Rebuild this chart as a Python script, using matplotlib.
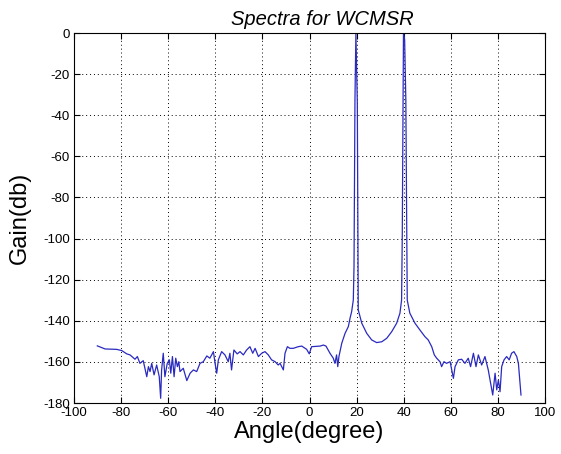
import numpy as np
import matplotlib
matplotlib.use('Agg')
import matplotlib.pyplot as plt

# angle (degree) and gain (db)
angle = [-90.1, -86.8, -81.9, -79.7, -77.6, -76.2, -74.1, -73.1, -72.0, -70.6,
         -69.1, -68.4, -67.7, -67.0, -66.0, -64.9, -63.8, -63.2, -62.8, -62.1,
         -61.4, -60.4, -59.5, -58.9, -58.2, -57.5, -56.8, -56.1, -55.5, -55.0,
         -53.6, -52.1, -50.7, -49.3, -47.9, -46.5, -45.1, -43.6, -42.3, -40.8,
         -40.1, -39.4, -38.7, -37.3, -35.9, -34.5, -33.8, -33.1, -32.1, -30.7,
         -29.5, -28.1, -26.7, -25.3, -24.1, -23.1, -21.7, -20.3, -18.9, -17.5,
         -16.1, -14.6, -13.3, -12.5, -11.1, -10.4, -9.4, -8.3, -6.9, -4.8,
         -3.3, -1.2, -0.1, 0.9, 4.5, 5.9, 7.0, 8.7, 10.1, 10.8,
         11.5, 12.0, 12.5, 13.7, 15.1, 16.5, 17.2, 17.9, 18.6, 18.9,
         19.3, 19.7, 20.3, 20.7, 22.2, 24.3, 26.4, 28.5, 30.7, 32.8,
         34.9, 37.0, 38.4, 39.1, 39.4, 39.8, 39.9, 40.4, 40.9, 41.5,
         42.6, 44.8, 46.9, 49.0, 50.4, 51.9, 53.0, 54.0, 55.4, 56.1,
         57.1, 58.2, 59.7, 60.8, 61.1, 61.8, 63.2, 64.6, 66.0, 67.4,
         68.4, 69.6, 70.7, 71.7, 73.1, 74.5, 75.9, 77.8, 78.8, 79.5,
         80.2, 80.9, 81.6, 82.6, 83.7, 84.8, 85.8, 86.8, 88.0, 88.7,
         89.4, 89.8]
gain = [-152.2, -153.7, -153.9, -154.5, -156.1, -156.6, -158.7, -157.4, -160.7, -159.4,
        -167.2, -162.3, -164.7, -160.7, -166.3, -161.5, -167.2, -177.7, -163.9, -155.8,
        -167.2, -160.7, -159.0, -165.5, -157.4, -167.2, -158.2, -162.3, -159.9, -164.7,
        -163.1, -169.1, -165.5, -163.9, -164.7, -160.7, -159.9, -157.1, -158.2, -155.0,
        -160.7, -165.5, -159.0, -155.0, -156.6, -159.9, -155.8, -163.9, -154.2, -156.1,
        -155.0, -156.6, -154.2, -152.6, -155.8, -153.4, -157.4, -155.8, -155.0, -156.6,
        -159.0, -159.9, -161.5, -160.7, -163.9, -155.8, -152.6, -153.4, -153.4, -152.6,
        -152.3, -153.9, -156.1, -152.6, -152.3, -151.8, -152.3, -155.8, -158.2, -160.7,
        -156.6, -162.3, -157.4, -150.9, -146.1, -142.8, -138.8, -135.5, -129.9, -113.6,
        -32.6, 0.0, -34.0, -134.7, -141.2, -146.1, -149.3, -150.6, -150.2, -148.5,
        -145.3, -141.2, -136.3, -129.9, -97.4, -16.4, 0.0, -3.4, -32.6, -129.9,
        -136.3, -141.2, -144.5, -147.7, -149.3, -152.6, -156.6, -158.2, -159.9, -162.3,
        -159.9, -160.7, -159.9, -166.3, -168.0, -162.3, -159.0, -158.7, -160.7, -158.2,
        -162.3, -155.8, -162.3, -156.6, -161.5, -157.4, -163.9, -176.1, -165.5, -173.6,
        -168.8, -174.5, -162.3, -159.0, -157.4, -159.0, -155.8, -155.0, -157.4, -160.7,
        -170.4, -176.1]

xticks = np.arange(-100, 101, 20)
yticks = np.arange(-180, 1, 20)

plt.rcParams['font.family'] = ['Liberation Sans', 'DejaVu Sans']
plt.rcParams['axes.unicode_minus'] = False

fig = plt.figure(figsize=(5.61, 4.54), dpi=100)
ax = fig.add_axes([0.1319, 0.1123, 0.8396, 0.815])

ax.plot(angle, gain, color='#2a2ac0', linewidth=0.9)

ax.set_xlim(-100, 100)
ax.set_ylim(-180, 0)
ax.set_xticks(xticks)
ax.set_yticks(yticks)
ax.tick_params(direction='in', top=True, right=True, labelsize=9.5, length=4, pad=3)
ax.grid(True, color='black', linestyle=(0, (1, 3)), linewidth=0.7)
for s in ax.spines.values():
    s.set_linewidth(0.8)

ax.set_title('Spectra for WCMSR', fontsize=14.5, fontstyle='italic', pad=6, x=0.527)
ax.set_xlabel('Angle(degree)', fontsize=17, labelpad=1)
ax.set_ylabel('Gain(db)', fontsize=17, labelpad=9)

fig.savefig('out.png', dpi=100)
